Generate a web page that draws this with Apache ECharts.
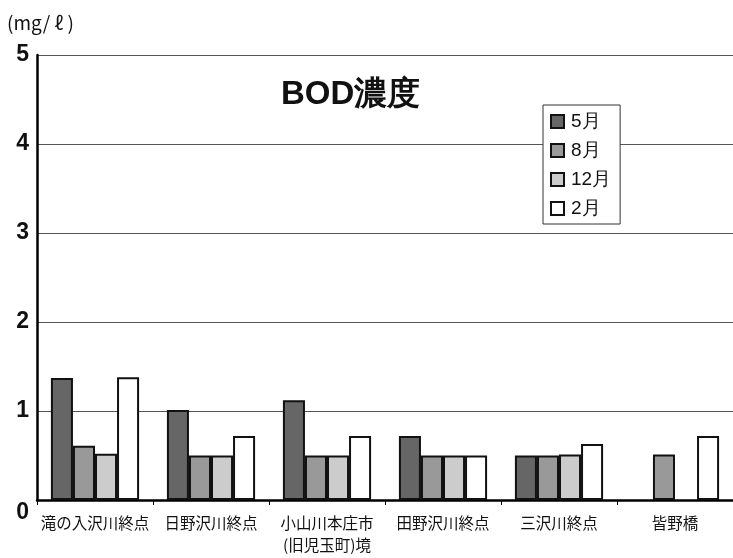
<!DOCTYPE html>
<html>
<head>
<meta charset="utf-8">
<script src="https://cdn.jsdelivr.net/npm/echarts@6/dist/echarts.min.js"></script>
<style>
  html, body { margin: 0; padding: 0; background: #fff; }
  #chart { width: 733px; height: 558px; }
</style>
</head>
<body>
<div id="chart"></div>
<script>
// sampling points along the rivers
const sites = ['滝の入沢川終点', '日野沢川終点', '小山川本庄市\n(旧児玉町)境', '田野沢川終点', '三沢川終点', '皆野橋'];
const months = ['5月', '8月', '12月', '2月'];
const may = [1.37, 1.01, 1.12, 0.72, 0.5, null];
const aug = [0.61, 0.5, 0.5, 0.5, 0.5, 0.51];
const dec = [0.52, 0.5, 0.5, 0.5, 0.51, null];
const feb = [1.38, 0.72, 0.72, 0.5, 0.63, 0.72];
const yTicks = [0, 1, 2, 3, 4, 5];

const fills = ['#666666', '#999999', '#cccccc', '#ffffff'];
const values = [may, aug, dec, feb];

const tickFont = {
    fontFamily: 'Liberation Sans',
    fontSize: 23,
    fontWeight: 'bold',
    color: '#111'
};

const chart = echarts.init(document.getElementById('chart'));
chart.setOption({
    animation: false,
    title: {
        text: 'BOD濃度',
        left: 276,
        top: 73,
        textStyle: {
            fontFamily: 'Liberation Sans',
            fontSize: 33,
            fontWeight: 'bold',
            color: '#111'
        }
    },
    graphic: [{
        type: 'text',
        left: 7,
        top: 13,
        style: {
            text: '(mg/ ℓ )',
            font: '19px "Noto Sans CJK JP"',
            fill: '#111'
        }
    }],
    legend: {
        orient: 'vertical',
        left: 543,
        top: 105,
        data: months,
        backgroundColor: '#fff',
        borderColor: '#333',
        borderWidth: 1,
        padding: [7, 9, 6, 7],
        itemGap: 10,
        itemWidth: 13,
        itemHeight: 13,
        icon: 'rect',
        textStyle: {
            fontFamily: 'Liberation Sans',
            fontSize: 19,
            color: '#111',
            padding: [0, 0, 0, 2]
        }
    },
    grid: {
        left: 37,
        right: 0,
        top: 55,
        bottom: 58
    },
    xAxis: {
        type: 'category',
        data: sites,
        axisLine: { lineStyle: { color: '#000', width: 2.5 } },
        axisTick: { show: true, length: 5, lineStyle: { color: '#000' } },
        axisLabel: {
            interval: 0,
            margin: 12,
            fontFamily: 'Noto Sans CJK JP',
            fontSize: 15.5,
            lineHeight: 22,
            color: '#111'
        }
    },
    yAxis: {
        type: 'value',
        min: 0,
        max: 5,
        interval: 1,
        axisLine: { show: true, lineStyle: { color: '#000', width: 2.5 } },
        axisTick: { show: false },
        splitLine: { lineStyle: { color: '#555', width: 1 } },
        axisLabel: Object.assign({
            margin: 8,
            formatter: (v) => {
                if (!yTicks.includes(v)) return '';
                return v === 0 ? '{z|0}' : String(v);
            },
            rich: {
                z: Object.assign({ padding: [26, 0, 0, 0] }, tickFont)
            }
        }, tickFont)
    },
    series: months.map((m, i) => {
        return {
            name: m,
            type: 'bar',
            data: values[i],
            barGap: '0%',
            barCategoryGap: '24%',
            itemStyle: {
                color: fills[i],
                borderColor: '#111',
                borderWidth: 2
            }
        };
    })
});
</script>
</body>
</html>
